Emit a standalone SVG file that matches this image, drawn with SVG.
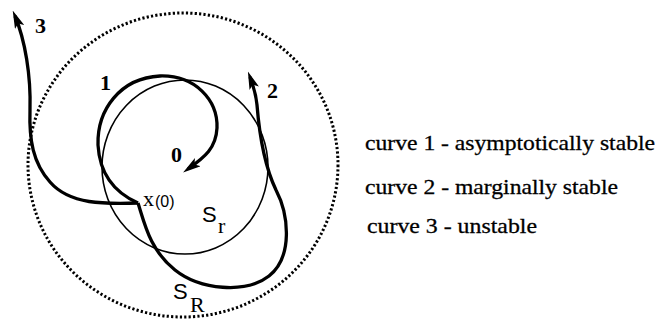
<svg xmlns="http://www.w3.org/2000/svg" width="669" height="326" viewBox="0 0 669 326">
<style>
.bg{fill:#ffffff}
.outer{fill:none;stroke:#000;stroke-width:3;stroke-dasharray:2.2 2.2}
.inner{fill:none;stroke:#000;stroke-width:1.6}
.curve{fill:none;stroke:#000;stroke-width:3.3;stroke-linecap:butt;stroke-linejoin:round}
.num{font-family:"Liberation Serif",serif;font-weight:bold;font-size:22px;fill:#000}
.lbl{font-family:"Liberation Serif",serif;font-size:22px;fill:#000}
.sans{font-family:"Liberation Sans",sans-serif;fill:#000}
.legend{font-family:"Liberation Serif",serif;font-size:22px;fill:#000;stroke:#000;stroke-width:0.3}
</style>
<defs>
<marker id="arrow" viewBox="0 -5 18 10" refX="12" refY="0" markerWidth="18" markerHeight="10" markerUnits="userSpaceOnUse" orient="auto">
<path d="M0,-5 L18,0 L0,5 L4,0 Z" fill="#000"/>
</marker>
</defs>
<rect class="bg" x="0" y="0" width="669" height="326"/>
<g id="region-SR">
<ellipse class="outer" cx="183" cy="165" rx="155" ry="152"/>
<text class="sans" x="173" y="299" font-size="22">S</text>
<text class="lbl" x="190" y="312" font-size="21">R</text>
</g>
<g id="region-Sr">
<ellipse class="inner" cx="185" cy="167" rx="83" ry="87"/>
<text class="sans" x="202" y="222" font-size="22">S</text>
<text class="lbl" x="218" y="233" font-size="21">r</text>
</g>
<g id="connectors">
<path id="curve1" class="curve" marker-end="url(#arrow)" d="M138,203 C120,195 100,180 98,145 C97,110 120,78 160,76 C195,75 218,100 217,128 C216,148 205,157 188,169"/>
<path id="curve2" class="curve" marker-end="url(#arrow)" d="M138,203 C145,225 150,250 175,270 C200,290 246,294 269,276 C293,257 289,215 276,190 C264,165 259,130 257,105 C256,95 253,85 250,77"/>
<path id="curve3" class="curve" marker-end="url(#arrow)" d="M138,203 C105,204 70,205 50,182 C33,163 29,140 30,110 C31,75 25,40 15,16"/>
</g>
<g id="origin">
<text class="num" x="171" y="162">0</text>
</g>
<g id="start-point">
<text class="lbl" x="143" y="206" font-size="23">x</text>
<text class="sans" x="155" y="207" font-size="16">(0)</text>
</g>
<g id="labels">
<text class="num" x="100" y="90">1</text>
<text class="num" x="267" y="98">2</text>
<text class="num" x="35" y="33">3</text>
</g>
<g id="legend">
<text class="legend" x="365" y="150" textLength="290" lengthAdjust="spacingAndGlyphs">curve 1 - asymptotically stable</text>
<text class="legend" x="365" y="194" textLength="253" lengthAdjust="spacingAndGlyphs">curve 2 - marginally stable</text>
<text class="legend" x="367" y="233" textLength="170" lengthAdjust="spacingAndGlyphs">curve 3 - unstable</text>
</g>
</svg>
